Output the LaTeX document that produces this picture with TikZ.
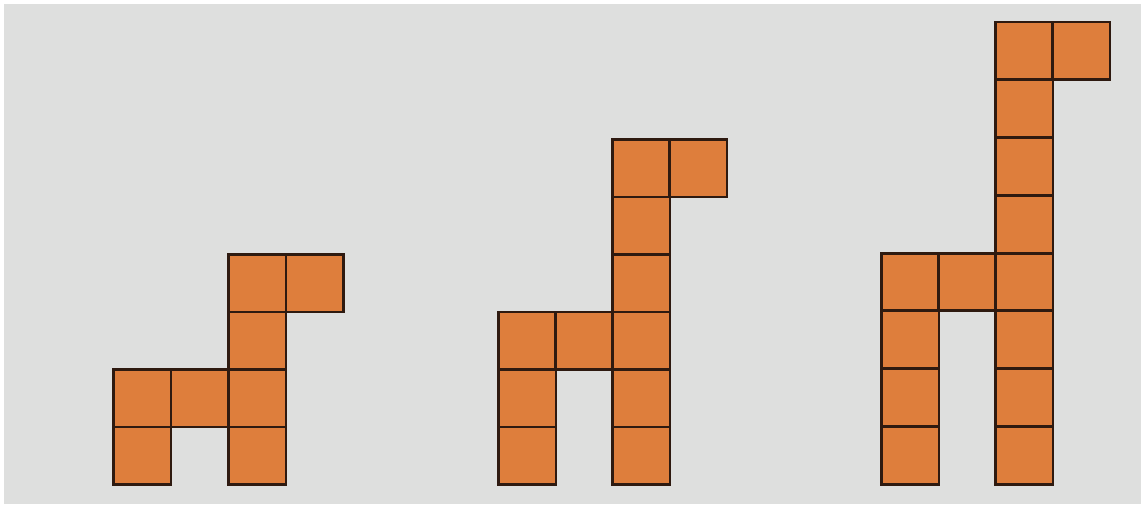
\documentclass[tikz,border=0pt]{standalone}
\definecolor{bgc}{HTML}{DEDFDE}
\definecolor{sqfill}{HTML}{DE7E3C}
\definecolor{sqline}{HTML}{2E1A10}
\begin{document}
\begin{tikzpicture}[x=1pt,y=-1pt,
  sq/.style={draw=sqline,fill=sqfill,line width=2.8pt,minimum size=57.5pt,inner sep=0pt,anchor=north west,rectangle}]
\useasboundingbox (0,0) rectangle (1145,508);
\fill[white] (0,0) rectangle (1145,508);
\fill[bgc] (4,4) rectangle (1141,504);
% figure 1: columns at x=112+57.5*i, rows bottom at 483
\foreach \c/\r [count=\n] in {0/1,2/1,0/2,1/2,2/2,2/3,2/4,3/4}{
  \node[sq] (fa\n) at ({112+57.5*\c},{483-57.5*\r}) {};
}
% figure 2
\foreach \c/\r [count=\n] in {0/1,2/1,0/2,2/2,0/3,1/3,2/3,2/4,2/5,2/6,3/6}{
  \node[sq] (fb\n) at ({497+57*\c},{483-57.5*\r}) {};
}
% figure 3
\foreach \c/\r [count=\n] in {0/1,2/1,0/2,2/2,0/3,2/3,0/4,1/4,2/4,2/5,2/6,2/7,2/8,3/8}{
  \node[sq] (fc\n) at ({880+57*\c},{483-57.8*\r}) {};
}
\end{tikzpicture}
\end{document}
